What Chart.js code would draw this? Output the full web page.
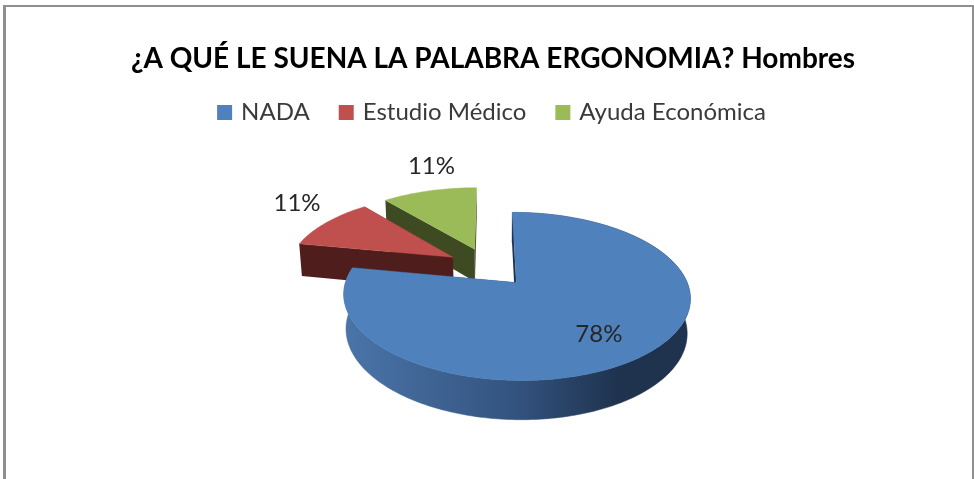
<!DOCTYPE html>
<html><head><meta charset="utf-8">
<style>html,body{margin:0;padding:0;background:#fff}#w{width:974px;height:479px}canvas{display:block;filter:blur(.5px)}</style>
<script src="https://cdn.jsdelivr.net/npm/chart.js@4"></script></head>
<body><div id="w"><canvas id="c" width="974" height="479"></canvas></div>
<script>
const chartTitle = '¿A QUÉ LE SUENA LA PALABRA ERGONOMIA? Hombres';
const categories = ['NADA', 'Estudio Médico', 'Ayuda Económica'];
const values = [78, 11, 11];
const percentLabels = ['78%', '11%', '11%'];
const topColors = ['#4f81bd', '#c0504d', '#9bbb59'];
const cutColors = ['#1f334f', '#4f1e1c', '#3e4a22'];

// 3D view of the pie: each library arc is re-projected through a perspective camera.
const view = {rx:165.5, ry:76.7, depth:34, persp:.16, perspZ:.015, explode:.255, shiftX:-4.5, shiftY:-.3};
// label anchors on the pie plane, in pie radii
const labelU = [.585, -1.335, -.437];
const labelV = [-.767, .962, 1.669];

function projector(arc){
  const cx = arc.x + view.shiftX, cy = arc.y + view.shiftY;
  return (u,v,z)=>{
    const w = 1 + view.persp*v + view.perspZ*z;
    return [cx + view.rx*u/w, cy + (-view.ry*v + view.depth*z)/w];
  };
}
function poly(ctx,pts,color,lw){
  ctx.fillStyle=color; ctx.strokeStyle=color; ctx.lineWidth=lw; ctx.lineJoin='round';
  ctx.beginPath();pts.forEach((p,k)=>k?ctx.lineTo(...p):ctx.moveTo(...p));ctx.closePath();ctx.fill();
  if(lw>0)ctx.stroke();
}
function drawSlice(ctx,arc,i){
  const P = projector(arc);
  const a0 = arc.startAngle+Math.PI/2, a1 = arc.endAngle+Math.PI/2, mid=(a0+a1)/2;
  const ou = view.explode*Math.sin(mid), ov = view.explode*Math.cos(mid);
  const n = Math.ceil((a1-a0)/0.02), rim=[];
  for(let k=0;k<=n;k++){const t=a0+(a1-a0)*k/n; rim.push([ou+Math.sin(t),ov+Math.cos(t)]);}
  const grad = ctx.createLinearGradient(P(ou-1,ov,1)[0],0,P(ou+1,ov,1)[0],0);
  if(i===0){grad.addColorStop(0,'#4a74a8');grad.addColorStop(.5,'#33537f');grad.addColorStop(.8,'#1f334f');grad.addColorStop(1,'#1f334f');}
  else {grad.addColorStop(0,cutColors[i]);grad.addColorStop(1,cutColors[i]);}
  const wallPts=(p,q)=>[P(p[0],p[1],0),P(q[0],q[1],0),P(q[0],q[1],1),P(p[0],p[1],1)];
  // the curved wall as one shape, then the two cut faces (far one first), then the top face
  if(i===0) poly(ctx,[...rim.map(r=>P(r[0],r[1],0)),...rim.slice().reverse().map(r=>P(r[0],r[1],1))],grad,.5);
  const apex=[ou,ov];
  [[apex,rim[0]],[rim[n],apex]].sort((A,B)=>(B[0][1]+B[1][1])-(A[0][1]+A[1][1]))
    .forEach(e=>{ if(P(e[0][0],e[0][1],0)[0]<P(e[0][0],e[0][1],1)[0]+4) poly(ctx,wallPts(e[0],e[1]),cutColors[i],0); });
  poly(ctx,[P(ou,ov,0),...rim.map(r=>P(r[0],r[1],0))],topColors[i],.4);
}
const pie3d = {
  id:'pie3d',
  beforeDraw(chart){
    const ctx=chart.ctx; ctx.save(); ctx.fillStyle='#8f8f8f';
    ctx.fillRect(3,5,3,474); ctx.fillRect(3,5,971,2); ctx.fillRect(972,5,2,474); ctx.restore();
  },
  beforeDatasetsDraw(chart){
    const ctx=chart.ctx, arcs=chart.getDatasetMeta(0).data;
    ctx.save();
    [2,1,0].forEach(i=>drawSlice(ctx,arcs[i],i));
    ctx.font='24px Lato'; ctx.fillStyle='#262626'; ctx.textAlign='center'; ctx.textBaseline='middle';
    arcs.forEach((arc,i)=>{const p=projector(arc)(labelU[i],labelV[i],0); ctx.fillText(percentLabels[i],p[0],p[1]);});
    ctx.restore();
    return false;
  }
};
new Chart(document.getElementById('c'),{
  type:'pie',
  data:{labels:categories,datasets:[{data:values,backgroundColor:topColors,borderWidth:0}]},
  plugins:[pie3d],
  options:{
    responsive:false,animation:false,
    layout:{padding:{left:12,top:34,bottom:79,right:0}},
    plugins:{
      tooltip:{enabled:false},
      title:{display:true,text:chartTitle,color:'#000',font:{family:'Lato',size:28,weight:'bold'},padding:{top:8,bottom:-7}},
      legend:{position:'top',labels:{color:'#3a3a3a',font:{family:'Lato',size:24},usePointStyle:true,pointStyle:'rect',boxWidth:9,boxHeight:15,padding:32}}
    }
  }
});
</script></body></html>
